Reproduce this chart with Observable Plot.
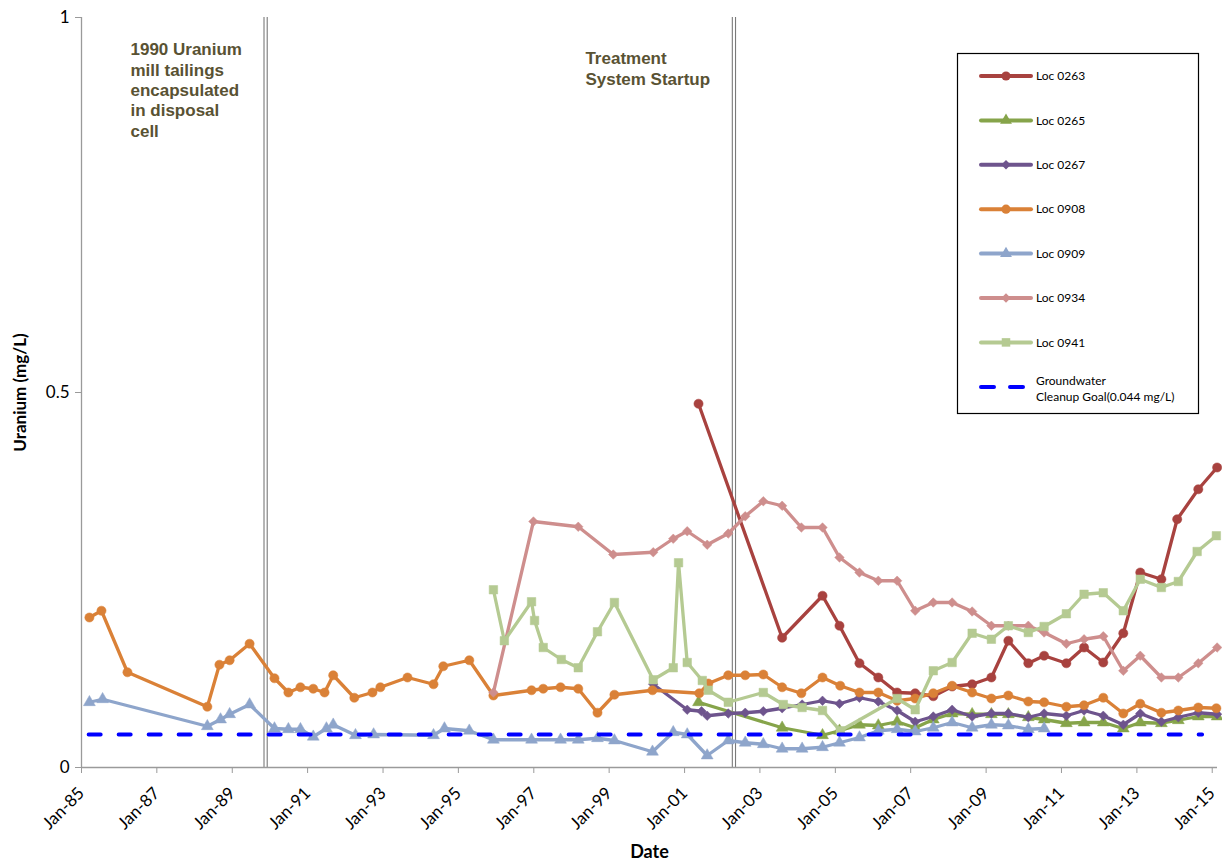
<!DOCTYPE html>
<html><head><meta charset="utf-8">
<script src="https://cdn.jsdelivr.net/npm/d3@7"></script>
<script src="https://cdn.jsdelivr.net/npm/@observablehq/plot@0.6"></script>
<style>
body{margin:0;background:#fff;}
#chart{position:relative;width:1222px;height:863px;}
</style>
</head><body><div id="chart"></div>
<script>
// ---- data (decimal years, mg/L) ----
const seriesNames = ["Loc 0263","Loc 0265","Loc 0267","Loc 0908","Loc 0909","Loc 0934","Loc 0941"];
const seriesColors = ["#A8423F","#86A44A","#6E548D","#DA8137","#8EA5CB","#CE8E8D","#B5CA92"];
const seriesSymbols = ["circle","triangle","diamond2","circle","triangle","diamond2","square"];

const loc0263Years = [2001.37,2003.59,2004.66,2005.11,2005.64,2006.14,2006.64,2007.12,2007.60,2008.10,2008.63,2009.14,2009.59,2010.12,2010.54,2011.13,2011.60,2012.11,2012.64,2013.09,2013.65,2014.07,2014.63,2015.13];
const loc0263Values = [0.485,0.173,0.229,0.189,0.139,0.120,0.100,0.099,0.095,0.108,0.111,0.120,0.169,0.139,0.149,0.139,0.160,0.140,0.179,0.260,0.251,0.331,0.371,0.400];

const loc0265Years = [2001.37,2003.59,2004.66,2005.11,2005.64,2006.14,2006.64,2007.12,2007.60,2008.10,2008.63,2009.14,2009.59,2010.12,2010.54,2011.13,2011.60,2012.11,2012.64,2013.09,2013.65,2014.10,2014.63,2015.13];
const loc0265Values = [0.087,0.053,0.043,0.049,0.057,0.056,0.061,0.053,0.064,0.072,0.071,0.071,0.071,0.067,0.064,0.059,0.060,0.060,0.052,0.060,0.059,0.063,0.068,0.068];

const loc0267Years = [2000.17,2001.07,2001.45,2001.60,2002.16,2002.61,2003.09,2003.59,2004.12,2004.66,2005.11,2005.64,2006.14,2006.64,2007.12,2007.60,2008.10,2008.63,2009.14,2009.59,2010.12,2010.54,2011.13,2011.60,2012.11,2012.64,2013.09,2013.65,2014.10,2014.63,2015.13];
const loc0267Values = [0.111,0.077,0.075,0.069,0.072,0.073,0.075,0.079,0.084,0.089,0.085,0.093,0.088,0.076,0.061,0.068,0.077,0.068,0.072,0.072,0.067,0.072,0.069,0.076,0.069,0.057,0.072,0.061,0.067,0.073,0.071];

const loc0908Years = [1985.21,1985.53,1986.22,1988.34,1988.66,1988.93,1989.46,1990.12,1990.49,1990.81,1991.15,1991.45,1991.68,1992.24,1992.72,1992.93,1993.65,1994.34,1994.60,1995.29,1995.93,1996.94,1997.25,1997.71,1998.18,1998.69,1999.14,2000.15,2001.39,2001.63,2002.16,2002.61,2003.09,2003.59,2004.10,2004.66,2005.13,2005.64,2006.14,2006.64,2007.12,2007.60,2008.10,2008.63,2009.14,2009.59,2010.12,2010.54,2011.13,2011.60,2012.11,2012.64,2013.09,2013.65,2014.10,2014.63,2015.11];
const loc0908Values = [0.200,0.209,0.127,0.081,0.137,0.143,0.165,0.119,0.100,0.107,0.105,0.100,0.123,0.093,0.100,0.107,0.120,0.111,0.135,0.143,0.096,0.103,0.105,0.107,0.105,0.073,0.097,0.103,0.099,0.112,0.123,0.123,0.124,0.107,0.099,0.120,0.109,0.100,0.100,0.089,0.092,0.099,0.109,0.100,0.092,0.096,0.088,0.087,0.081,0.083,0.093,0.072,0.085,0.073,0.076,0.080,0.079];

const loc0909Years = [1985.21,1985.56,1988.34,1988.69,1988.93,1989.46,1990.12,1990.49,1990.81,1991.15,1991.50,1991.68,1992.27,1992.75,1994.34,1994.63,1995.29,1995.93,1996.94,1997.71,1998.18,1998.69,1999.14,2000.15,2000.70,2001.07,2001.60,2002.16,2002.61,2003.09,2003.59,2004.12,2004.66,2005.11,2005.64,2006.14,2006.64,2007.12,2007.60,2008.10,2008.63,2009.14,2009.59,2010.12,2010.54];
const loc0909Values = [0.087,0.091,0.055,0.064,0.071,0.084,0.052,0.051,0.051,0.041,0.052,0.057,0.043,0.044,0.043,0.052,0.049,0.037,0.037,0.037,0.037,0.039,0.036,0.021,0.047,0.044,0.016,0.036,0.033,0.031,0.025,0.025,0.027,0.033,0.040,0.049,0.051,0.048,0.053,0.060,0.053,0.057,0.056,0.051,0.052];

const loc0934Years = [1995.93,1996.99,1998.18,1999.11,2000.17,2000.70,2001.07,2001.60,2002.16,2002.61,2003.09,2003.59,2004.10,2004.66,2005.11,2005.64,2006.14,2006.64,2007.12,2007.60,2008.10,2008.63,2009.14,2009.59,2010.12,2010.54,2011.13,2011.60,2012.11,2012.64,2013.09,2013.65,2014.10,2014.63,2015.13];
const loc0934Values = [0.100,0.328,0.321,0.284,0.287,0.305,0.315,0.297,0.312,0.335,0.355,0.349,0.320,0.320,0.280,0.260,0.249,0.249,0.209,0.220,0.220,0.208,0.189,0.189,0.189,0.180,0.165,0.171,0.175,0.129,0.149,0.120,0.120,0.139,0.160];

const loc0941Years = [1995.93,1996.22,1996.94,1997.02,1997.25,1997.73,1998.18,1998.69,1999.14,2000.17,2000.70,2000.84,2001.07,2001.47,2001.63,2002.16,2003.09,2003.62,2004.12,2004.66,2005.13,2006.64,2007.12,2007.60,2008.10,2008.63,2009.14,2009.59,2010.12,2010.54,2011.13,2011.60,2012.11,2012.64,2013.09,2013.65,2014.10,2014.60,2015.11];
const loc0941Values = [0.237,0.169,0.221,0.196,0.160,0.144,0.133,0.181,0.220,0.117,0.133,0.273,0.140,0.116,0.103,0.087,0.100,0.084,0.080,0.076,0.049,0.092,0.077,0.129,0.140,0.179,0.171,0.189,0.180,0.188,0.205,0.231,0.233,0.209,0.251,0.240,0.248,0.288,0.309];

const goalLabel = ["Groundwater","Cleanup Goal(0.044 mg/L)"];
const goalYears = [1985.19, 2014.73];
const goalValues = [0.044, 0.044];

const eventYears = [1989.885, 2002.31];
const annotationYears = [1986.30, 1998.37];
const annotationValues = [0.969, 0.957];
const annotationTexts = ["1990 Uranium\nmill tailings\nencapsulated\nin disposal\ncell", "Treatment\nSystem Startup"];

const xTickYears = [1985,1987,1989,1991,1993,1995,1997,1999,2001,2003,2005,2007,2009,2011,2013,2015];
const yTicks = [0, 0.5, 1];
const xDomainYears = [1985, 2015.14];

// ---- helpers ----
function toDate(y){
  const yr = Math.floor(y);
  const s = Date.UTC(yr,0,1), e = Date.UTC(yr+1,0,1);
  return new Date(s + (y-yr)*(e-s));
}
const seriesYears = [loc0263Years,loc0265Years,loc0267Years,loc0908Years,loc0909Years,loc0934Years,loc0941Years];
const seriesValues = [loc0263Values,loc0265Values,loc0267Values,loc0908Values,loc0909Values,loc0934Values,loc0941Values];
const symbolR = {circle:4.6, triangle:4.4, diamond2:4.3, square:4.8};

const series = seriesNames.map((name,i)=>({
  name, color: seriesColors[i], symbol: seriesSymbols[i],
  rows: seriesYears[i].map((y,j)=>({date: toDate(y), value: seriesValues[i][j]}))
}));

const goalRows = goalYears.map((y,i)=>({date: toDate(y), value: goalValues[i]}));
const events = eventYears.map(toDate);
const annotations = annotationTexts.map((t,i)=>({date: toDate(annotationYears[i]), value: annotationValues[i], text: t}));

const axisGray = "#9a9a9a";
const marks = [
  Plot.ruleX(events, {x: d=>d, stroke:"#7a7a7a", strokeWidth:1.1, dx:-1.6}),
  Plot.ruleX(events, {x: d=>d, stroke:"#7a7a7a", strokeWidth:1.1, dx:1.6}),
  Plot.ruleY([0], {stroke: axisGray, strokeWidth:1.3}),
  Plot.ruleX([toDate(xDomainYears[0])], {stroke: axisGray, strokeWidth:1.3}),
  Plot.axisX({ticks: xTickYears.map(toDate), tickFormat: d3.utcFormat("%b-%y"), tickRotate:-45, tickSize:6, tickPadding:17, stroke: axisGray, fill:"#000", label:null, fontSize:17}),
  Plot.axisY({ticks: yTicks, tickFormat: d=>String(d), tickSize:6, tickPadding:6, stroke: axisGray, fill:"#000", label:null, fontSize:17}),
];
for (const s of series){
  marks.push(Plot.line(s.rows, {x:"date", y:"value", stroke:s.color, strokeWidth:3.3, strokeLinejoin:"round", strokeLinecap:"round"}));
  marks.push(Plot.dot(s.rows, {x:"date", y:"value", symbol: ()=>s.symbol, r: symbolR[s.symbol], fill:s.color, stroke:s.color, strokeWidth:0.5}));
}
marks.push(Plot.line(goalRows, {x:"date", y:"value", stroke:"#0000FF", strokeWidth:4, strokeDasharray:"12,18", strokeLinecap:"round"}));
marks.push(Plot.text(annotations, {x:"date", y:"value", text:"text", textAnchor:"start", lineAnchor:"top", lineHeight:1.2, fontWeight:"bold", fontSize:17, fill:"#595233", fontFamily:"Liberation Sans"}));
marks.push(Plot.text(["Uranium (mg/L)"], {frameAnchor:"left", textAnchor:"middle", lineAnchor:"middle", dx:-61, rotate:-90, fontWeight:"bold", fontSize:17, fill:"#000"}));
marks.push(Plot.text(["Date"], {frameAnchor:"bottom", textAnchor:"middle", lineAnchor:"middle", dy:85, fontWeight:"bold", fontSize:18, fill:"#000"}));

const chart = Plot.plot({
  width:1222, height:863,
  marginLeft:81, marginRight:5, marginTop:17, marginBottom:96,
  style:{fontFamily:"Lato, 'Open Sans', sans-serif", fontSize:"16px", background:"#fff", color:"#000", overflow:"visible"},
  x:{type:"utc", domain: xDomainYears.map(toDate)},
  y:{domain:[0,1]},
  symbol:{type:"identity"},
  marks
});
document.getElementById("chart").appendChild(chart);

// ---- legend ----
const svg = d3.select(chart);
const lg = svg.append("g").attr("font-family","Lato, sans-serif").attr("font-size",12).attr("text-anchor","start").attr("fill","#000");
lg.append("rect").attr("x",957.5).attr("y",53.5).attr("width",241).attr("height",360)
  .attr("fill","#fff").attr("stroke","#000").attr("stroke-width",1.2);
const symGen = {circle:d3.symbolCircle, triangle:d3.symbolTriangle, diamond2:d3.symbolDiamond2, square:d3.symbolSquare};
series.forEach((s,i)=>{
  const cy = 76 + i*44.4;
  const g = lg.append("g");
  g.append("line").attr("x1",981).attr("x2",1031).attr("y1",cy).attr("y2",cy)
    .attr("stroke",s.color).attr("stroke-width",4).attr("stroke-linecap","round");
  const r = symbolR[s.symbol];
  g.append("path").attr("transform",`translate(1006,${cy})`)
    .attr("d", d3.symbol(symGen[s.symbol], Math.PI*r*r)()).attr("fill",s.color);
  g.append("text").attr("x",1036).attr("y",cy).attr("dy","0.35em").attr("text-anchor","start").text(s.name);
});
const gy = 387;
lg.append("line").attr("x1",981).attr("x2",1024).attr("y1",gy).attr("y2",gy)
  .attr("stroke","#0000FF").attr("stroke-width",4).attr("stroke-dasharray","13,16").attr("stroke-linecap","round");
goalLabel.forEach((t,i)=>{
  lg.append("text").attr("x",1036).attr("y",381 + i*15.5).attr("dy","0.35em").attr("text-anchor","start").text(t);
});
</script>
</body></html>
